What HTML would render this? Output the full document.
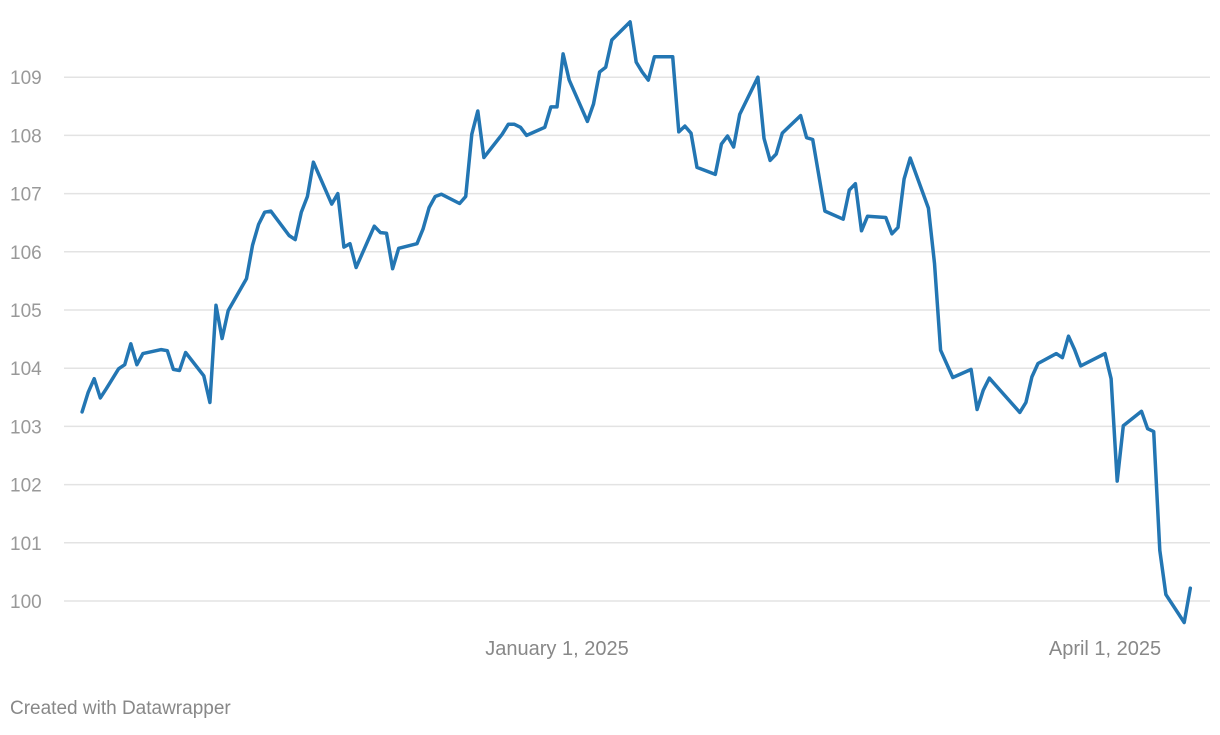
<!DOCTYPE html>
<html><head><meta charset="utf-8">
<style>
html,body{margin:0;padding:0;background:#fff;}
body{width:1220px;height:730px;overflow:hidden;font-family:"Liberation Sans",sans-serif;}
</style></head>
<body>
<svg id="chart" width="1220" height="730" xmlns="http://www.w3.org/2000/svg">
<g id="grid"></g>
<g id="ylabels"></g>
<g id="xlabels"></g>
<path id="line" fill="none" stroke="#2376b3" stroke-width="3.5" stroke-linejoin="round" stroke-linecap="round"></path>
<text x="10" y="714" font-size="19" fill="#888">Created with Datawrapper</text>
</svg>
<script>
// days offset from Jan 1, 2025
const days = [-78,-77,-76,-75,-74,-72,-71,-70,-69,-68,-65,-64,-63,-62,-61,-58,-57,-56,-55,-54,-51,-50,-49,-48,-47,-44,-43,-42,-41,-40,-37,-36,-35,-34,-33,-30,-29,-28,-27,-26,-23,-22,-21,-20,-19,-16,-15,-14,-13,-12,-9,-8,-7,-6,-5,-2,-1,0,1,2,5,6,7,8,9,12,13,14,15,16,19,20,21,22,23,26,27,28,29,30,33,34,35,36,37,40,41,42,44,47,48,49,50,51,54,55,56,57,58,61,62,63,65,68,69,70,71,76,77,78,79,82,83,84,85,86,90,91,92,93,96,97,98,99,100,103,104];
const values = [103.25,103.58,103.82,103.49,103.65,103.99,104.06,104.42,104.06,104.25,104.32,104.30,103.98,103.96,104.27,103.87,103.41,105.08,104.51,104.99,105.54,106.11,106.47,106.68,106.70,106.28,106.21,106.68,106.95,107.54,106.82,107.00,106.08,106.14,105.73,106.44,106.33,106.32,105.71,106.06,106.14,106.39,106.76,106.95,106.99,106.83,106.95,108.02,108.42,107.62,108.02,108.19,108.19,108.14,108.00,108.14,108.49,108.49,109.40,108.95,108.24,108.54,109.09,109.17,109.64,109.95,109.26,109.09,108.95,109.35,109.35,108.06,108.16,108.04,107.45,107.33,107.85,107.99,107.80,108.36,109.00,107.95,107.57,107.68,108.04,108.34,107.96,107.93,106.70,106.56,107.06,107.17,106.36,106.61,106.59,106.31,106.42,107.25,107.61,106.75,105.80,104.31,103.84,103.98,103.29,103.62,103.83,103.24,103.41,103.85,104.08,104.25,104.18,104.55,104.32,104.04,104.25,103.82,102.06,103.01,103.26,102.96,102.91,100.87,100.11,99.63,100.22];
const yTicks = [100,101,102,103,104,105,106,107,108,109];
const xTickDays = [0,90];
const xTickLabels = ["January 1, 2025","April 1, 2025"];

const NS="http://www.w3.org/2000/svg";
const xScale = d => 557 + d*6.089;
const yScale = v => 601 - (v-100)*58.2;

const grid=document.getElementById('grid'), yl=document.getElementById('ylabels'), xl=document.getElementById('xlabels');
yTicks.forEach(t=>{
  const l=document.createElementNS(NS,'line');
  
  
  l.setAttribute('x1',64);l.setAttribute('x2',1210);
  l.setAttribute('y1',yScale(t));l.setAttribute('y2',yScale(t));
  l.setAttribute('stroke','#e3e3e3');l.setAttribute('stroke-width','1.5');
  grid.appendChild(l);
  const tx=document.createElementNS(NS,'text');
  
  
  tx.setAttribute('x',10);tx.setAttribute('y',yScale(t)+7);
  tx.setAttribute('font-size','19');tx.setAttribute('fill','#999');
  tx.textContent=t;
  yl.appendChild(tx);
});
xTickDays.forEach((d,i)=>{
  const tx=document.createElementNS(NS,'text');
  
  
  tx.setAttribute('x',xScale(d));tx.setAttribute('y',655);
  tx.setAttribute('text-anchor','middle');
  tx.setAttribute('font-size','20');tx.setAttribute('fill','#888');
  tx.textContent=xTickLabels[i];
  xl.appendChild(tx);
});
document.getElementById('line').setAttribute('d',
  days.map((d,i)=>(i?'L':'M')+xScale(d).toFixed(1)+','+yScale(values[i]).toFixed(1)).join(''));
</script>
</body></html>
